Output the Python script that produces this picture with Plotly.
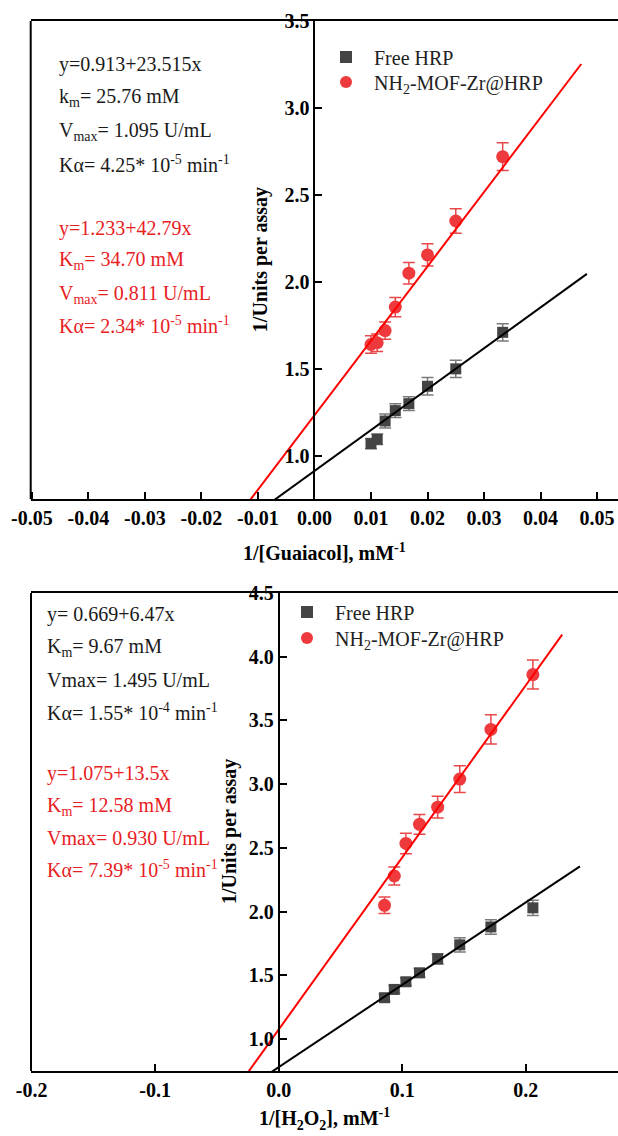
import plotly.graph_objects as go

W, H = 618, 1136

# ---------------- data: top panel (Guaiacol) ----------------
g_x_free = [0.0100, 0.0111, 0.0125, 0.0143, 0.0167, 0.0200, 0.0250, 0.0333]
g_y_free = [1.07, 1.095, 1.20, 1.26, 1.30, 1.40, 1.50, 1.71]
g_e_free = [0.03, 0.03, 0.04, 0.04, 0.04, 0.05, 0.05, 0.05]
g_x_mof = [0.0100, 0.0111, 0.0125, 0.0143, 0.0167, 0.0200, 0.0250, 0.0333]
g_y_mof = [1.64, 1.65, 1.72, 1.855, 2.05, 2.155, 2.35, 2.72]
g_e_mof = [0.05, 0.05, 0.05, 0.055, 0.062, 0.064, 0.07, 0.08]
g_fit_free = (0.913, 23.515)
g_fit_mof = (1.233, 42.79)
g_fit_xrange_free = [-0.05, 0.0482]
g_fit_xrange_mof = [-0.05, 0.0472]

# ---------------- data: bottom panel (H2O2) ----------------
h_x = [0.0857, 0.0936, 0.1030, 0.1140, 0.1287, 0.1466, 0.1718, 0.2058]
h_y_free = [1.325, 1.39, 1.45, 1.52, 1.63, 1.74, 1.88, 2.03]
h_e_free = [0.03, 0.03, 0.03, 0.035, 0.04, 0.056, 0.057, 0.06]
h_y_mof = [2.05, 2.28, 2.535, 2.685, 2.82, 3.04, 3.43, 3.86]
h_e_mof = [0.065, 0.07, 0.08, 0.078, 0.086, 0.105, 0.114, 0.114]
h_fit_free = (0.78, 6.46)
h_fit_mof = (1.075, 13.5)
h_fit_xrange_free = [-0.2, 0.2439]
h_fit_xrange_mof = [-0.2, 0.2295]

series_names = ["Free HRP", "NH<sub>2</sub>-MOF-Zr@HRP"]

g_text_black = ["y=0.913+23.515x", "k<sub>m</sub>= 25.76 mM", "V<sub>max</sub>= 1.095 U/mL",
                "Kα= 4.25* 10<sup>-5</sup> min<sup>-1</sup>"]
g_text_red = ["y=1.233+42.79x", "K<sub>m</sub>= 34.70 mM", "V<sub>max</sub>= 0.811 U/mL",
              "Kα= 2.34* 10<sup>-5</sup> min<sup>-1</sup>"]
h_text_black = ["y= 0.669+6.47x", "K<sub>m</sub>= 9.67 mM", "Vmax= 1.495 U/mL",
                "Kα= 1.55* 10<sup>-4</sup> min<sup>-1</sup>"]
h_text_red = ["y=1.075+13.5x", "K<sub>m</sub>= 12.58 mM", "Vmax= 0.930 U/mL",
              "Kα= 7.39* 10<sup>-5</sup> min<sup>-1</sup>"]

SERIF = "Liberation Serif"
GRAY = "#444444"
GRAY_ERR = "#7a7a7a"
RED_M = "#ee3a3c"
RED_ERR = "#e8484a"
RED_L = "#ff0000"
RED_T = "#e8201e"


def px_x(p):
    return p / W


def px_y(p):
    return 1 - p / H


panels = [
    dict(xr=[-0.0502, 0.0537], yr=[0.75, 3.5], xl=30.7, yt=21, yb=499.3,
         xtv=[-0.05, -0.04, -0.03, -0.02, -0.01, 0.0, 0.01, 0.02, 0.03, 0.04, 0.05],
         xfmt="{:.2f}", ytv=[1.0, 1.5, 2.0, 2.5, 3.0, 3.5],
         xt=g_x_free, yf=g_y_free, ef=g_e_free, xm=g_x_mof, ym=g_y_mof, em=g_e_mof,
         ff=g_fit_free, fm=g_fit_mof, rf=g_fit_xrange_free, rm=g_fit_xrange_mof,
         xtitle="1/[Guaiacol], mM<sup>-1</sup>", xtitle_y=552,
         ytitle_x=260,
         tb=g_text_black, tr=g_text_red, tx=57,
         ty_b=[65, 97, 131, 164], ty_r=[228, 260, 294, 325],
         leg_x=318, leg_y=[57, 82]),
    dict(xr=[-0.2005, 0.2747], yr=[0.75, 4.5], xl=31, yt=593, yb=1071,
         xtv=[-0.2, -0.1, 0.0, 0.1, 0.2], xfmt="{:.1f}",
         ytv=[1.0, 1.5, 2.0, 2.5, 3.0, 3.5, 4.0, 4.5],
         xt=h_x, yf=h_y_free, ef=h_e_free, xm=h_x, ym=h_y_mof, em=h_e_mof,
         ff=h_fit_free, fm=h_fit_mof, rf=h_fit_xrange_free, rm=h_fit_xrange_mof,
         xtitle="1/[H<sub>2</sub>O<sub>2</sub>], mM<sup>-1</sup>", xtitle_y=1119,
         ytitle_x=229,
         tb=h_text_black, tr=h_text_red, tx=45,
         ty_b=[614, 647, 680, 712], ty_r=[773, 806, 838, 869],
         leg_x=279, leg_y=[612, 638]),
]

fig = go.Figure()
layout = dict(width=W, height=H, margin=dict(l=0, r=0, t=0, b=0, autoexpand=False),
              paper_bgcolor="white", plot_bgcolor="white", showlegend=True)
annotations = []
shapes = []
leg_count = 0

for i, p in enumerate(panels):
    n = "" if i == 0 else str(i + 1)
    xa, ya = "x" + n, "y" + n
    xdom = [px_x(p["xl"]), 1.0]
    ydom = [px_y(p["yb"]), px_y(p["yt"])]
    frac0 = (0 - p["xr"][0]) / (p["xr"][1] - p["xr"][0])
    ypos = xdom[0] + frac0 * (xdom[1] - xdom[0])

    layout["xaxis" + n] = dict(
        domain=xdom, range=p["xr"], anchor=ya, showgrid=False, zeroline=False,
        showline=True, mirror=True, linecolor="black", linewidth=2,
        ticks="inside", ticklen=7, tickwidth=2, tickcolor="black",
        tickmode="array", tickvals=p["xtv"],
        ticktext=["<b>" + p["xfmt"].format(v) + "</b>" for v in p["xtv"]],
        tickfont=dict(family=SERIF, size=20, color="black"),
        automargin=False,
    )
    layout["yaxis" + n] = dict(
        domain=ydom, range=p["yr"], anchor="free", position=ypos, showgrid=False,
        zeroline=False, showline=True, linecolor="black", linewidth=2,
        ticks="inside", ticklen=7, tickwidth=2, tickcolor="black",
        tickmode="array", tickvals=p["ytv"],
        ticktext=["<b>{:.1f}</b>".format(v) for v in p["ytv"]],
        tickfont=dict(family=SERIF, size=20, color="black"),
        automargin=False,
    )
    shapes.append(dict(type="line", xref="paper", yref="paper", x0=xdom[0], x1=xdom[0],
                       y0=ydom[0], y1=ydom[1], line=dict(color="black", width=2)))

    annotations.append(dict(text="<b>" + p["xtitle"] + "</b>", x=(xdom[0] + xdom[1]) / 2,
                            y=px_y(p["xtitle_y"]), xref="paper", yref="paper",
                            xanchor="center", yanchor="middle", showarrow=False,
                            font=dict(family=SERIF, size=20, color="black")))
    annotations.append(dict(text="<b>1/Units per assay</b>", x=px_x(p["ytitle_x"]),
                            y=(ydom[0] + ydom[1]) / 2, xref="paper", yref="paper",
                            xanchor="center", yanchor="middle", showarrow=False, textangle=-90,
                            font=dict(family=SERIF, size=20, color="black")))

    leg_names = []
    for j in range(2):
        leg_count += 1
        ln = "legend" if leg_count == 1 else "legend" + str(leg_count)
        leg_names.append(ln)
        layout[ln] = dict(
            x=px_x(p["leg_x"]), y=px_y(p["leg_y"][j]), xanchor="left", yanchor="middle",
            bgcolor="rgba(0,0,0,0)", font=dict(family=SERIF, size=20, color="#222222"),
            itemsizing="constant", itemwidth=46, borderwidth=0)

    fig.add_trace(go.Scatter(
        x=p["xt"], y=p["yf"], mode="markers", name=series_names[0], xaxis=xa, yaxis=ya,
        marker=dict(symbol="square", size=11, color=GRAY),
        error_y=dict(type="data", array=p["ef"], color=GRAY_ERR, thickness=1.5, width=6),
        legend=leg_names[0], cliponaxis=False))
    fig.add_trace(go.Scatter(
        x=p["xm"], y=p["ym"], mode="markers", name=series_names[1],
        xaxis=xa, yaxis=ya,
        marker=dict(symbol="circle", size=13, color=RED_M),
        error_y=dict(type="data", array=p["em"], color=RED_ERR, thickness=1.5, width=6),
        legend=leg_names[1], cliponaxis=False))
    b0, k0 = p["ff"]
    fig.add_trace(go.Scatter(
        x=p["rf"], y=[b0 + k0 * v for v in p["rf"]], mode="lines", showlegend=False,
        xaxis=xa, yaxis=ya, line=dict(color="black", width=2)))
    b1, k1 = p["fm"]
    fig.add_trace(go.Scatter(
        x=p["rm"], y=[b1 + k1 * v for v in p["rm"]], mode="lines", showlegend=False,
        xaxis=xa, yaxis=ya, line=dict(color=RED_L, width=2)))

    for t, yy in zip(p["tb"], p["ty_b"]):
        annotations.append(dict(text=t, x=px_x(p["tx"]), y=px_y(yy), xref="paper", yref="paper",
                                xanchor="left", yanchor="middle", showarrow=False,
                                font=dict(family=SERIF, size=20, color="#1a1a1a")))
    for t, yy in zip(p["tr"], p["ty_r"]):
        annotations.append(dict(text=t, x=px_x(p["tx"]), y=px_y(yy), xref="paper", yref="paper",
                                xanchor="left", yanchor="middle", showarrow=False,
                                font=dict(family=SERIF, size=20, color=RED_T)))

layout["annotations"] = annotations
layout["shapes"] = shapes
fig.update_layout(**layout)
fig.write_html("out.html", config={"displayModeBar": False},
               post_script="document.body.style.margin='0';document.body.style.overflow='hidden';")
